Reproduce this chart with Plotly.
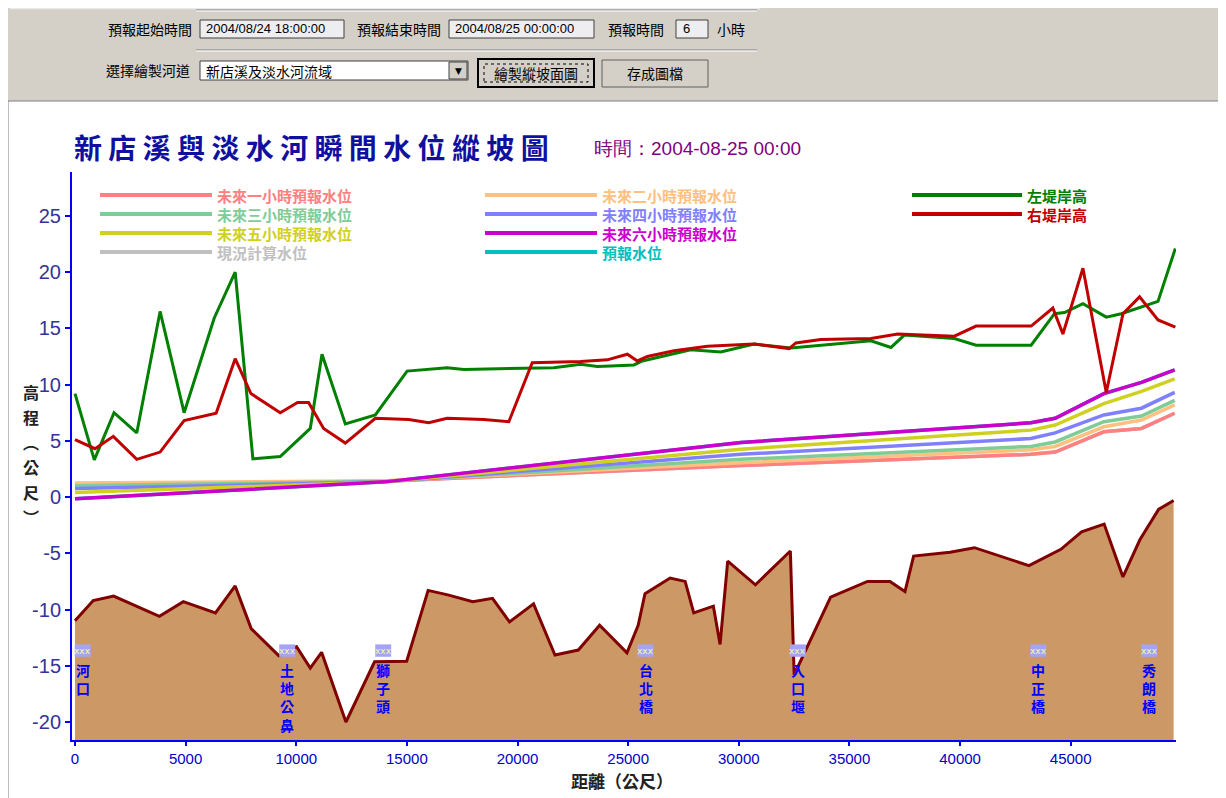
import plotly.graph_objects as go

# ---- data (distance in m, elevation in m) ----
bed_dist = [0, 824, 1747, 3815, 4896, 6348, 7240, 7964, 9208, 10014, 10634, 11145, 12245,
            13539, 14991, 15960, 16847, 17978, 18869, 19638, 20724, 21693, 22747, 23711,
            24946, 25453, 25761, 26897, 27576, 27965, 28852, 29155, 29499, 30752, 32331,
            32503, 34150, 35815, 36833, 37512, 37901, 39548, 40652, 43114, 44557, 45494,
            46512, 47363, 48127, 48973, 49652]
bed_elev = [-11.0, -9.2, -8.8, -10.6, -9.3, -10.3, -7.9, -11.7, -14.1, -13.3, -15.2, -13.8, -20.0,
            -14.65, -14.6, -8.3, -8.7, -9.3, -9.0, -11.1, -9.5, -14.05, -13.6, -11.4,
            -13.85, -11.4, -8.6, -7.2, -7.5, -10.3, -9.7, -13.1, -5.7, -7.8, -4.8,
            -15.8, -8.9, -7.5, -7.5, -8.4, -5.25, -4.9, -4.5, -6.1, -4.65, -3.1,
            -2.4, -7.1, -3.8, -1.1, -0.3]

left_dist = [0, 873, 1765, 2792, 3846, 4932, 6290, 7240, 8041, 9276, 10634, 11163, 12218,
             13575, 15009, 16819, 17571, 20136, 21643, 22851, 23607, 24209, 25263, 25643,
             27829, 29186, 30693, 32354, 35974, 36879, 37481, 39744, 40725, 43214, 44268,
             44721, 45554, 46608, 47286, 48947, 49730]
left_elev = [9.2, 3.3, 7.5, 5.7, 16.5, 7.5, 15.9, 20.0, 3.4, 3.6, 6.1, 12.7, 6.5,
             7.3, 11.2, 11.5, 11.35, 11.45, 11.5, 11.8, 11.6, 11.65, 11.75, 12.1,
             13.1, 12.9, 13.6, 13.25, 13.9, 13.3, 14.4, 14.1, 13.5, 13.5, 16.3,
             16.4, 17.2, 16.0, 16.3, 17.4, 22.1]

right_dist = [0, 905, 1733, 2792, 3846, 4932, 6380, 7240, 7950, 9276, 10059, 10557, 11236,
              12218, 13575, 15082, 15987, 16819, 18476, 19607, 20665, 22851, 24059, 24964,
              25417, 25870, 27073, 28584, 30693, 32277, 32580, 33711, 35974, 37182, 39744,
              40725, 43214, 44196, 44649, 45554, 46608, 47364, 48114, 48947, 49730]
right_elev = [5.1, 4.3, 5.4, 3.35, 4.0, 6.8, 7.45, 12.3, 9.2, 7.5, 8.4, 8.4, 6.1,
              4.8, 7.0, 6.9, 6.6, 7.0, 6.9, 6.7, 11.95, 12.05, 12.2, 12.7,
              12.1, 12.5, 13.0, 13.4, 13.6, 13.2, 13.7, 14.0, 14.1, 14.5, 14.3,
              15.2, 15.2, 16.8, 14.5, 20.35, 9.3, 16.3, 17.8, 15.75, 15.1]

wl_dist = [0, 14000, 30100, 43200, 44300, 46500, 48200, 49700]
wl_1h = [1.15, 1.4, 2.8, 3.8, 4.0, 5.8, 6.1, 7.45]
wl_2h = [1.25, 1.45, 3.05, 4.2, 4.5, 6.25, 6.85, 8.2]
wl_3h = [1.0, 1.4, 3.35, 4.5, 4.9, 6.7, 7.2, 8.6]
wl_4h = [0.75, 1.35, 3.8, 5.2, 5.7, 7.3, 7.9, 9.3]
wl_5h = [0.4, 1.35, 4.25, 5.95, 6.4, 8.3, 9.4, 10.5]
wl_6h = [-0.15, 1.35, 4.85, 6.6, 7.0, 9.2, 10.2, 11.3]
wl_now = wl_1h
wl_fcst = wl_6h

x_ticks = list(range(0, 45001, 5000))
y_ticks = list(range(-20, 26, 5))

bridge_names = ["河口", "土地公鼻", "獅子頭", "台北橋", "入口堰", "中正橋", "秀朗橋"]
bridge_dist = [350, 9590, 13930, 25790, 32670, 43530, 48550]

y_title_chars = ["高", "程", "︵", "公", "尺", "︶"]

# legend entries: (name, colour, column, row)
legend_items = [
    ("未來一小時預報水位", "#FF8080", 0, 0), ("未來二小時預報水位", "#FFC080", 1, 0),
    ("左堤岸高", "#008000", 2, 0),
    ("未來三小時預報水位", "#80CC99", 0, 1), ("未來四小時預報水位", "#8080FF", 1, 1),
    ("右堤岸高", "#C00000", 2, 1),
    ("未來五小時預報水位", "#D0D020", 0, 2), ("未來六小時預報水位", "#CC00CC", 1, 2),
    ("現況計算水位", "#C0C0C0", 0, 3), ("預報水位", "#00C0C0", 1, 3),
]

# ---- pixel helpers (window pixels; page body has an 8px margin) ----
OFF = 8
PL, PR, PT, PB = 72, 1176, 172, 740
def fx(p): return (p - PL) / (PR - PL)
def fy(p): return (PB - p) / (PB - PT)

CJK = "Noto Sans CJK TC"
shapes, annos = [], []

def rect(x0, y0, x1, y1, fill, line="#808080", lw=1, dash=None):
    ln = dict(color=line, width=lw)
    if dash:
        ln["dash"] = dash
    shapes.append(dict(type="rect", xref="paper", yref="paper", layer="below",
                       x0=fx(x0), x1=fx(x1), y0=fy(y1), y1=fy(y0), fillcolor=fill, line=ln))

def hline(x0, x1, y, color, lw=1, layer="below"):
    shapes.append(dict(type="line", xref="paper", yref="paper", layer=layer,
                       x0=fx(x0), x1=fx(x1), y0=fy(y), y1=fy(y), line=dict(color=color, width=lw)))

def text(x, y, s, size=14, color="black", xanchor="left", family=CJK, bold=False):
    if bold:
        s = "<b>" + s + "</b>"
    annos.append(dict(xref="paper", yref="paper", x=fx(x), y=fy(y), text=s, showarrow=False,
                      xanchor=xanchor, yanchor="middle", font=dict(size=size, color=color, family=family)))

# control panel
rect(8, 101, 1226, 805, "white", line="#808080")
rect(10, 6, 760, 9, "#F4F4F4", line="#E0E0E0")
for y in (10, 50):
    hline(196, 757, y, "#808080")
    hline(196, 757, y + 1, "white")
text(106, 29, "預報起始時間")
rect(200, 20, 344, 38, "#EEEEF0", line="#404040")
text(204, 29, "2004/08/24 18:00:00", size=13, family="Liberation Sans Narrow, Arial")
text(355, 29, "預報結束時間")
rect(449, 20, 594, 38, "#EEEEF0", line="#404040")
text(453, 29, "2004/08/25 00:00:00", size=13, family="Liberation Sans Narrow, Arial")
text(606, 29, "預報時間")
rect(676, 20, 708, 38, "#EEEEF0", line="#404040")
text(681, 29, "6", size=13, family="Arial")
text(715, 29, "小時")
text(104, 70, "選擇繪製河道")
rect(200, 61, 468, 80, "white", line="#404040")
text(204, 71, "新店溪及淡水河流域")
rect(449, 62, 467, 79, "#D4D0C8", line="#404040")
text(458, 71, "▼", size=9, xanchor="center", family="DejaVu Sans")
rect(478, 59, 594, 87, "#D4D0C8", line="black", lw=2)
rect(484, 64, 588, 82, "#D4D0C8", line="black", dash="dot")
text(536, 73, "繪製縱坡面圖", xanchor="center")
rect(602, 60, 708, 87, "#D4D0C8", line="#606060")
text(655, 73, "存成圖檔", xanchor="center")

# titles
text(72, 147, " ".join("新店溪與淡水河瞬間水位縱坡圖"), size=28, color="#1010A0", bold=True)
text(592, 148, "時間：2004-08-25 00:00", size=19, color="#800080",
     family="Liberation Sans Narrow, Arial Narrow, Arial")
for i, ch in enumerate(y_title_chars):
    text(31, 392 + 25 * i, ch, size=16, color="#222222", xanchor="center", bold=True)
text(622, 780, "距離（公尺）", size=17, color="#222222", xanchor="center", bold=True)

# manual legend
col_line = [(100, 212), (485, 597), (912, 1022)]
row_y = [195, 214, 233, 252]
for name, color, c, r in legend_items:
    x0, x1 = col_line[c]
    hline(x0, x1, row_y[r], color, lw=4, layer="above")
    text(x1 + 3, row_y[r], name, size=15, color=color, bold=True)

# bridge markers
for name, d in zip(bridge_names, bridge_dist):
    shapes.append(dict(type="rect", xref="x", yref="y", layer="above",
                       x0=d - 360, x1=d + 360, y0=-14.2, y1=-13.1,
                       fillcolor="#A4A4F4", line=dict(width=0)))
    annos.append(dict(xref="x", yref="y", x=d, y=-13.65, text="xxx", showarrow=False,
                      font=dict(size=9, color="#F8F8B0", family="DejaVu Sans")))
    annos.append(dict(xref="x", yref="y", x=d, y=-14.3, yanchor="top",
                      text="<b>" + "<br>".join(name) + "</b>", showarrow=False,
                      font=dict(size=14, color="#0000FF", family=CJK)))

# ---- traces ----
fig = go.Figure()
fig.add_trace(go.Scatter(x=[bed_dist[0], bed_dist[-1]], y=[-30, -30], mode="lines",
                         line=dict(width=0), hoverinfo="skip"))
fig.add_trace(go.Scatter(x=bed_dist, y=bed_elev, mode="lines", fill="tonexty",
                         fillcolor="#CC9966", line=dict(color="#800000", width=3), name="河床"))
series = [("現況計算水位", wl_now, "#C0C0C0"), ("預報水位", wl_fcst, "#00C0C0"),
          ("未來一小時預報水位", wl_1h, "#FF8080"), ("未來二小時預報水位", wl_2h, "#FFC080"),
          ("未來三小時預報水位", wl_3h, "#80CC99"), ("未來四小時預報水位", wl_4h, "#8080FF"),
          ("未來五小時預報水位", wl_5h, "#D0D020"), ("未來六小時預報水位", wl_6h, "#CC00CC")]
for name, vals, color in series:
    fig.add_trace(go.Scatter(x=wl_dist, y=vals, mode="lines", name=name,
                             line=dict(color=color, width=3.5)))
fig.add_trace(go.Scatter(x=left_dist, y=left_elev, mode="lines", name="左堤岸高",
                         line=dict(color="#008000", width=3)))
fig.add_trace(go.Scatter(x=right_dist, y=right_elev, mode="lines", name="右堤岸高",
                         line=dict(color="#C00000", width=3)))

yaxis_style = dict(tickmode="array", tickvals=y_ticks, ticktext=[str(v) for v in y_ticks],
                   ticks="outside", ticklen=5, tickwidth=2, tickcolor="#0000FF",
                   showline=True, linecolor="#0000FF", linewidth=2,
                   showgrid=False, zeroline=False, range=[-21.6, 28.9],
                   tickfont=dict(size=20, color="#33339A", family="Liberation Sans, Arial"))

fig.update_layout(
    width=1226 - OFF, height=798 - OFF, showlegend=False,
    margin=dict(l=PL - OFF, r=1226 - PR, t=PT - OFF, b=798 - PB, autoexpand=False),
    paper_bgcolor="#D4D0C8", plot_bgcolor="white",
    xaxis=dict(range=[-135, 49760], tickmode="array", tickvals=x_ticks,
               ticktext=[str(v) for v in x_ticks],
               ticks="outside", ticklen=4, tickwidth=2, tickcolor="#0000FF",
               showline=True, linecolor="#0000FF", linewidth=2, showgrid=False, zeroline=False,
               tickfont=dict(size=15, color="#0000CC", family="Liberation Sans Narrow, Arial Narrow, Arial")),
    yaxis=yaxis_style,
    yaxis2=dict(yaxis_style, overlaying="y", side="right", anchor="x"),
    shapes=shapes, annotations=annos,
)

fig.write_html("out.html")
